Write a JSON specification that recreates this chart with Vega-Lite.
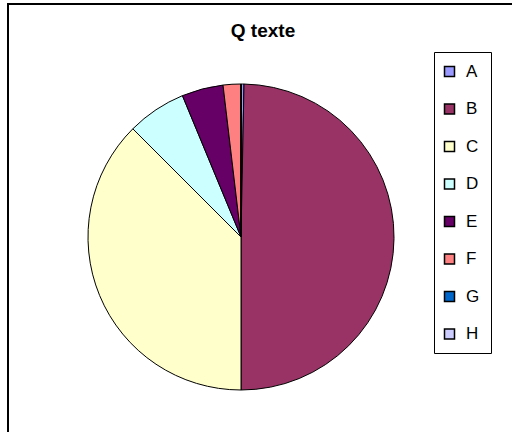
{
  "$schema": "https://vega.github.io/schema/vega-lite/v6.json",
  "autosize": "none",
  "padding": {"left": 8, "top": 4, "right": 0, "bottom": 0},
  "width": 560,
  "height": 500,
  "background": "white",
  "view": {"stroke": "black", "strokeWidth": 2, "fill": "white"},
  "title": {
    "text": "Q texte",
    "font": "Liberation Sans",
    "fontSize": 19,
    "fontWeight": "bold",
    "color": "black",
    "anchor": "middle",
    "dx": -25,
    "offset": -37
  },
  "data": {
    "values": [
      {"cat": "A", "n": 1},
      {"cat": "B", "n": 159},
      {"cat": "C", "n": 120},
      {"cat": "D", "n": 20},
      {"cat": "E", "n": 14},
      {"cat": "F", "n": 6},
      {"cat": "G", "n": 0},
      {"cat": "H", "n": 0}
    ]
  },
  "mark": {
    "type": "arc",
    "outerRadius": 153,
    "stroke": "black",
    "strokeWidth": 1,
    "xOffset": -47,
    "yOffset": -17
  },
  "encoding": {
    "theta": {"field": "n", "type": "quantitative", "stack": true},
    "order": {"field": "cat", "sort": "ascending"},
    "color": {
      "field": "cat",
      "type": "nominal",
      "scale": {
        "domain": ["A", "B", "C", "D", "E", "F", "G", "H"],
        "range": ["#9999FF", "#993366", "#FFFFCC", "#CCFFFF", "#660066", "#FF8080", "#0066CC", "#CCCCFF"]
      },
      "legend": {
        "title": null,
        "orient": "none",
        "legendX": 426,
        "legendY": 48,
        "strokeColor": "black",
        "padding": 11,
        "symbolType": "square",
        "symbolSize": 100,
        "symbolStrokeColor": "black",
        "symbolStrokeWidth": 1.5,
        "symbolOpacity": 1,
        "symbolOffset": -4,
        "labelFont": "Liberation Sans",
        "labelFontSize": 17,
        "labelColor": "black",
        "labelOffset": 8,
        "rowPadding": 19.5,
        "fillColor": "white"
      }
    }
  }
}
